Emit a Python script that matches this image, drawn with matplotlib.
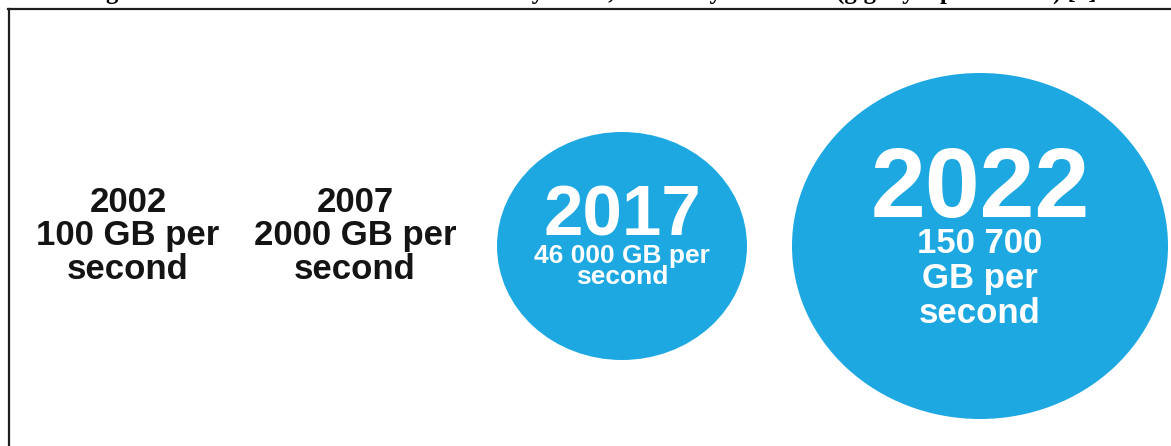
import matplotlib
matplotlib.use("Agg")
import matplotlib.pyplot as plt
from matplotlib.patches import Ellipse
from matplotlib.lines import Line2D

# ---------------- data ----------------
years = ["2002", "2007", "2017", "2022"]
traffic_gb_per_s = [100, 2000, 46000, 150700]
traffic_labels = ["100 GB per\nsecond",
                  "2000 GB per\nsecond",
                  "46 000 GB per\nsecond",
                  "150 700\nGB per\nsecond"]
has_bubble = [False, False, True, True]
title = ("Figure 1. Global Internet traffic forecast by Cisco, the newly "
         "estimated (gigabyte per second) [5]")

# ---------------- layout / style ----------------
W, H, DPI = 1171, 446, 100
col_x = [128, 355, 622, 980]
center_y = 246
bubble_rx = [0, 0, 125, 188]
bubble_ry = [0, 0, 114, 173]
year_base = [212, 212, 235, 217]
year_size = [25, 25, 51, 71]
label_base = [245, 245, 263, 253]
label_size = [25, 25, 19, 25]
label_step = [34, 34, 20.5, 35]
blue = "#1DA8E1"
dark = "#141414"
font = "Liberation Sans"

fig = plt.figure(figsize=(W / DPI, H / DPI), dpi=DPI)
fig.patch.set_facecolor("white")
ax = fig.add_axes([0, 0, 1, 1])
ax.set_xlim(0, W)
ax.set_ylim(H, 0)
ax.axis("off")

for i, (yr, lab) in enumerate(zip(years, traffic_labels)):
    x = col_x[i]
    col = dark
    if has_bubble[i]:
        ax.add_patch(Ellipse((x, center_y), 2 * bubble_rx[i], 2 * bubble_ry[i],
                             facecolor=blue, edgecolor="none", zorder=1))
        col = "white"
    ax.text(x, year_base[i], yr, ha="center", va="baseline", color=col,
            fontsize=year_size[i], fontweight="bold", family=font, zorder=2)
    for k, line in enumerate(lab.split("\n")):
        ax.text(x, label_base[i] + k * label_step[i], line, ha="center",
                va="baseline", color=col, fontsize=label_size[i],
                fontweight="bold", family=font, zorder=2)

# frame lines (figure pixel coords)
fig.add_artist(Line2D([8 / W, 1.0], [1 - 8.5 / H, 1 - 8.5 / H],
                      transform=fig.transFigure, color="#1e1e1e", lw=1.6))
fig.add_artist(Line2D([9 / W, 9 / W], [1 - 8.5 / H, 0.0],
                      transform=fig.transFigure, color="#1e1e1e", lw=1.6))

# clipped caption above the frame
fig.text(590 / W, 1 + 1.5 / H, title, ha="center", va="baseline",
         fontsize=17.8, fontweight="bold", family="Liberation Serif",
         color="black")

fig.savefig("out.png", dpi=DPI, facecolor="white")
